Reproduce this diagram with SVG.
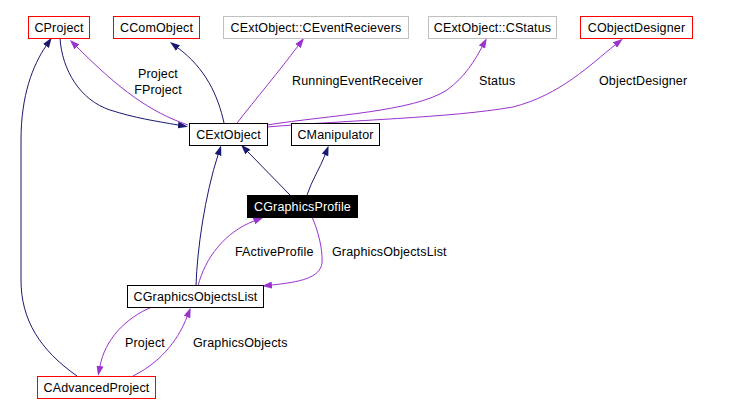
<svg xmlns="http://www.w3.org/2000/svg" width="743" height="415" viewBox="0 0 743 415">
<style>
text{font-family:"Liberation Sans",Arial,sans-serif;font-size:12.5px;letter-spacing:0.15px;fill:#000}
.n rect{fill:#fff;stroke:#000;stroke-width:1}
.n text{text-anchor:middle}
.red rect{stroke:#ff0000}
.gray rect{stroke:#bfbfbf}
.blk rect{fill:#000}
.blk text{fill:#fff}
.e path{fill:none;stroke-width:1}
.inh{stroke:#191970;marker-end:url(#ah)}
.use{stroke:#9a32cd;marker-end:url(#ap)}
</style>
<defs>
<marker id="ah" viewBox="0 0 10 7" refX="0" refY="3.5" markerUnits="userSpaceOnUse" markerWidth="10" markerHeight="7" orient="auto"><path d="M0,0L10,3.5L0,7z" fill="#191970"/></marker>
<marker id="ap" viewBox="0 0 10 7" refX="0" refY="3.5" markerUnits="userSpaceOnUse" markerWidth="10" markerHeight="7" orient="auto"><path d="M0,0L10,3.5L0,7z" fill="#9a32cd"/></marker>
</defs>
<rect width="743" height="415" fill="#fff"/>
<g id="edges" class="e">
<path class="inh" d="M60,38 C62,70 80,100 110,110 C135,118 155,121 178,125"/>
<path class="use" d="M188,125 C150,112 120,90 77,47"/>
<path class="inh" d="M224,123 C218,95 205,68 178,48"/>
<path class="use" d="M237,123 C255,100 280,70 298,46"/>
<path class="use" d="M267,125 C330,115 413,112 447,90 C465,77 475,60 482,47"/>
<path class="use" d="M267,127 C350,120 450,118 513,107 C560,95 590,65 615,45"/>
<path class="inh" d="M290,195 L248,152"/>
<path class="inh" d="M307,195 C312,180 320,168 325,155"/>
<path class="inh" d="M196,286 C197,250 205,195 218,155"/>
<path class="use" d="M198,286 C205,258 225,232 254,221"/>
<path class="use" d="M312,217 C318,230 323,250 322,263 C320,278 300,282 272,285"/>
<path class="inh" d="M77,376 C40,350 21,320 21,280 L21,140 C21,95 33,65 46,46"/>
<path class="use" d="M152,307 C125,318 105,340 100,366"/>
<path class="use" d="M133,376 C165,360 180,335 187,317"/>
<text x="158" y="78" text-anchor="middle">Project</text>
<text x="158" y="94" text-anchor="middle">FProject</text>
<text x="292" y="85">RunningEventReceiver</text>
<text x="479" y="85">Status</text>
<text x="599" y="85">ObjectDesigner</text>
<text x="235" y="256">FActiveProfile</text>
<text x="332" y="256">GraphicsObjectsList</text>
<text x="125" y="347">Project</text>
<text x="193" y="347">GraphicsObjects</text>
</g>
<g id="CProject" class="n red"><rect x="28.5" y="16.5" width="61" height="22"/><text x="59" y="32">CProject</text></g>
<g id="CComObject" class="n red"><rect x="113.5" y="16.5" width="86" height="22"/><text x="156.5" y="32">CComObject</text></g>
<g id="CEventRecievers" class="n gray"><rect x="223.5" y="16.5" width="185" height="22"/><text x="316" y="32">CExtObject::CEventRecievers</text></g>
<g id="CStatus" class="n gray"><rect x="428.5" y="16.5" width="128" height="22"/><text x="492.5" y="32">CExtObject::CStatus</text></g>
<g id="CObjectDesigner" class="n red"><rect x="580.5" y="16.5" width="112" height="22"/><text x="636.5" y="32">CObjectDesigner</text></g>
<g id="CExtObject" class="n"><rect x="189.5" y="123.5" width="78" height="22"/><text x="228.5" y="139">CExtObject</text></g>
<g id="CManipulator" class="n"><rect x="291.5" y="123.5" width="88" height="22"/><text x="335.5" y="139">CManipulator</text></g>
<g id="CGraphicsProfile" class="n blk"><rect x="247.5" y="195.5" width="110" height="22"/><text x="302.5" y="211">CGraphicsProfile</text></g>
<g id="CGraphicsObjectsList" class="n"><rect x="127.5" y="285.5" width="136" height="22"/><text x="195.5" y="301">CGraphicsObjectsList</text></g>
<g id="CAdvancedProject" class="n red"><rect x="37.5" y="376.5" width="118" height="22"/><text x="96.5" y="392">CAdvancedProject</text></g>
</svg>
